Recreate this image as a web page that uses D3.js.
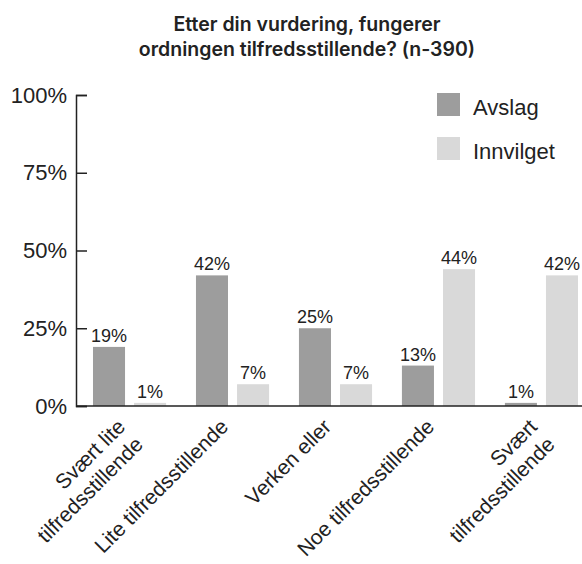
<!DOCTYPE html>
<html>
  <head>
    <meta charset="utf-8">
    <title>Etter din vurdering, fungerer ordningen tilfredsstillende?</title>
    <script src="https://cdn.jsdelivr.net/npm/d3@7"></script>
    <style>
        body { margin: 0; background: #fff; }
        svg { display: block; font-family: "Liberation Sans", Arial, sans-serif; }
        .title { font-family: Inter, "Noto Sans", sans-serif; font-weight: 600; font-size: 19.5px; fill: #222; }
    </style>
  </head>
  <body>
    <div id="chart"></div>
    <script>
        // answer categories (a line break marks a wrapped label)
        var categories = [
            "Svært lite\ntilfredsstillende",
            "Lite tilfredsstillende",
            "Verken eller",
            "Noe tilfredsstillende",
            "Svært\ntilfredsstillende"
        ];
        var seriesNames = ["Avslag", "Innvilget"];
        // percent of respondents
        var avslag = [19, 42, 25, 13, 1];
        var innvilget = [1, 7, 7, 44, 42];
        var yTicks = [0, 25, 50, 75, 100];
        var titleLines = ["Etter din vurdering, fungerer", "ordningen tilfredsstillende? (n-390)"];

        var colors = { "Avslag": "#9d9d9d", "Innvilget": "#d9d9d9" };
        var width = 582, height = 564;
        var plotLeft = 76, plotTop = 95, plotBottom = 406;

        var svg = d3.select("#chart").append("svg")
            .attr("width", width)
            .attr("height", height);

        // title, two centered lines
        svg.append("text")
            .attr("class", "title")
            .attr("text-anchor", "middle")
            .selectAll("tspan")
            .data(titleLines)
            .enter().append("tspan")
            .attr("x", 307)
            .attr("y", function(d, i) { return 31 + i * 25; })
            .text(function(d) { return d; });

        var x0 = d3.scaleBand()
            .domain(categories)
            .range([plotLeft, 595])
            .paddingInner(0.29)
            .paddingOuter(0.165);

        var x1 = d3.scaleBand()
            .domain(seriesNames)
            .range([0, x0.bandwidth()])
            .paddingInner(0.22);

        var y = d3.scaleLinear()
            .domain([0, 100])
            .range([plotBottom, plotTop]);

        // rows for the grouped bars
        var rows = categories.map(function(c, i) {
            return { cat: c, values: [
                { key: "Avslag", value: avslag[i] },
                { key: "Innvilget", value: innvilget[i] }
            ]};
        });

        var groups = svg.append("g").selectAll("g")
            .data(rows)
            .enter().append("g")
            .attr("transform", function(d) { return "translate(" + x0(d.cat) + ",0)"; });

        groups.selectAll("rect")
            .data(function(d) { return d.values; })
            .enter().append("rect")
            .attr("x", function(d) { return x1(d.key); })
            .attr("y", function(d) { return y(d.value); })
            .attr("width", x1.bandwidth())
            .attr("height", function(d) { return plotBottom - y(d.value); })
            .style("fill", function(d) { return colors[d.key]; });

        // value labels above the bars
        groups.selectAll("text")
            .data(function(d) { return d.values; })
            .enter().append("text")
            .attr("x", function(d) { return x1(d.key) + x1.bandwidth() / 2; })
            .attr("y", function(d) { return y(d.value) - 5; })
            .attr("text-anchor", "middle")
            .style("font-size", "18px")
            .style("fill", "#222")
            .text(function(d) { return d.value + "%"; });

        // y axis, ticks pointing inward
        var yAxis = svg.append("g")
            .attr("transform", "translate(" + plotLeft + ",0)")
            .call(d3.axisLeft(y)
                .tickValues(yTicks)
                .tickSize(-11)
                .tickPadding(9)
                .tickFormat(function(d) { return d + "%"; }));
        yAxis.select(".domain").attr("stroke", "#222").attr("stroke-width", 1.5);
        yAxis.selectAll(".tick line").attr("stroke", "#222").attr("stroke-width", 1.5);
        yAxis.selectAll(".tick text")
            .style("font-size", "22px")
            .style("font-family", "Liberation Sans, Arial, sans-serif")
            .style("fill", "#222");

        // baseline
        svg.append("line")
            .attr("x1", plotLeft).attr("x2", width)
            .attr("y1", y(0)).attr("y2", y(0))
            .attr("stroke", "#222")
            .attr("stroke-width", 1.5);

        // category labels, rotated 45 degrees
        var catLabels = svg.append("g").selectAll("text")
            .data(categories)
            .enter().append("text")
            .attr("text-anchor", "end")
            .attr("transform", function(d) {
                var cx = x0(d) + x0.bandwidth() / 2;
                return "translate(" + (cx - 3) + "," + 428 + ") rotate(-45)";
            })
            .style("font-size", "21px")
            .style("fill", "#222");

        catLabels.selectAll("tspan")
            .data(function(d) { return d.split("\n"); })
            .enter().append("tspan")
            .attr("x", 0)
            .attr("y", function(d, i) { return i * 25; })
            .text(function(d) { return d; });

        // legend
        var legend = svg.append("g").selectAll("g")
            .data(seriesNames)
            .enter().append("g")
            .attr("transform", function(d, i) { return "translate(437," + (93 + i * 44) + ")"; });

        legend.append("rect")
            .attr("width", 23)
            .attr("height", 23)
            .style("fill", function(d) { return colors[d]; });

        legend.append("text")
            .attr("x", 36)
            .attr("y", 22)
            .style("font-size", "22px")
            .style("fill", "#222")
            .text(function(d) { return d; });
    </script>
  </body>
</html>
